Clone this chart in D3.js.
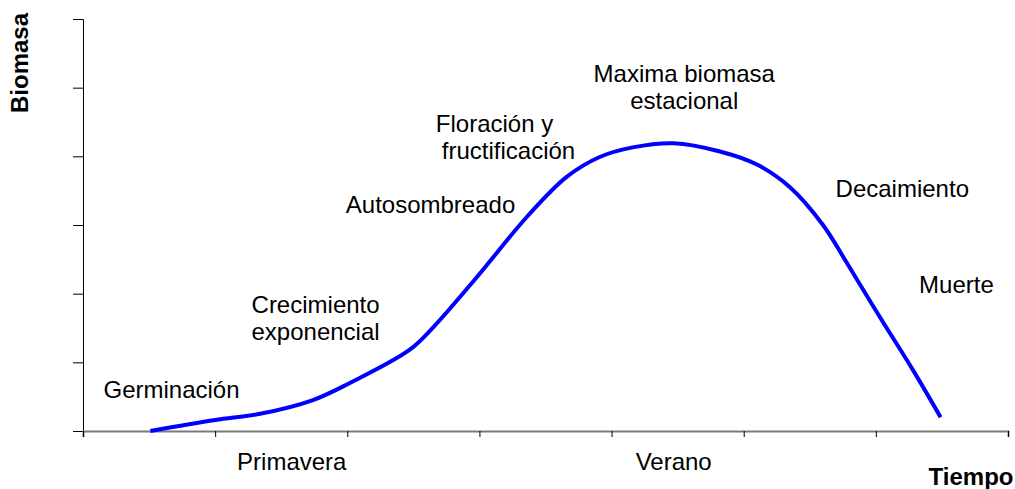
<!DOCTYPE html>
<html>
<head>
<meta charset="utf-8">
<script src="https://cdn.jsdelivr.net/npm/d3@7"></script>
<style>
  body { margin: 0; background: #fff; }
  text { font-family: "Liberation Sans", Arial, sans-serif; fill: #000; }
</style>
</head>
<body>
<div id="chart"></div>
<script>
// Configuration
const width = 1015;
const height = 489;
const margin = { top: 19, right: 7, bottom: 58, left: 83 };
const fontSize = "24px";

// Data: growth curve (time units, biomass units)
const timeValues = [0.51, 1.0, 1.34, 1.74, 2.02, 2.47, 2.65, 2.98, 3.36, 3.66, 3.91, 4.16, 4.47, 4.82, 5.10, 5.35, 5.60, 5.78, 6.03, 6.28, 6.49];
const biomassValues = [0.0, 0.16, 0.25, 0.45, 0.70, 1.18, 1.51, 2.24, 3.12, 3.70, 3.99, 4.13, 4.19, 4.07, 3.88, 3.55, 3.00, 2.45, 1.66, 0.89, 0.20];

// Season tick labels (placed between ticks)
const seasonLabels = ["Primavera", "Verano"];
const seasonPositions = [1.58, 4.47];

// Stage annotations: lines of text, anchor position in data units
const stageLines = [["Germinación"], ["Crecimiento", "exponencial"], ["Autosombreado"], ["Floración y", "fructificación"], ["Maxima biomasa", "estacional"], ["Decaimiento"], ["Muerte"]];
const stageX = [0.67, 1.76, 2.63, 3.22, 4.55, 6.20, 6.61];
const stageY = [0.48, 1.72, 3.17, 4.35, 5.08, 3.41, 2.01];
const lineShift = [[0], [0, 0], [0], [-14, 0], [0, 0], [0], [0]]; // px nudge per line

const x = d3.scaleLinear().domain([0, 7]).range([margin.left, width - margin.right]);
const y = d3.scaleLinear().domain([0, 6]).range([height - margin.bottom, margin.top]);

const svg = d3.select("#chart")
    .append("svg")
    .attr("width", width)
    .attr("height", height);

// Y axis (no labels)
const yAxis = svg.append("g")
    .attr("transform", `translate(${margin.left},0)`)
    .call(d3.axisLeft(y).ticks(6).tickSize(10).tickFormat(""));
yAxis.select(".domain").attr("stroke", "#000").attr("stroke-width", 1);
yAxis.selectAll(".tick line").attr("stroke", "#000");

// X axis (no labels)
const xAxis = svg.append("g")
    .attr("transform", `translate(0,${y(0)})`)
    .call(d3.axisBottom(x).ticks(7).tickSize(6).tickSizeOuter(6).tickFormat(""));
xAxis.select(".domain").attr("stroke", "#7a7a7a").attr("stroke-width", 2);
xAxis.selectAll(".tick line").attr("stroke", "#000");

// Season labels
svg.append("g")
    .selectAll("text")
    .data(seasonLabels)
    .join("text")
    .attr("x", (d, i) => x(seasonPositions[i]))
    .attr("y", y(0) + 39)
    .attr("text-anchor", "middle")
    .style("font-size", fontSize)
    .text(d => d);

// Axis titles
svg.append("text")
    .attr("transform", `translate(28,63) rotate(-90)`)
    .attr("text-anchor", "middle")
    .style("font-size", fontSize)
    .style("font-weight", "bold")
    .text("Biomasa");

svg.append("text")
    .attr("x", 971)
    .attr("y", 485)
    .attr("text-anchor", "middle")
    .style("font-size", fontSize)
    .style("font-weight", "bold")
    .text("Tiempo");

// Growth curve
const curveData = timeValues.map((t, i) => [t, biomassValues[i]]);
svg.append("path")
    .datum(curveData)
    .attr("fill", "none")
    .attr("stroke", "#0000ff")
    .attr("stroke-width", 4)
    .attr("d", d3.line()
        .x(d => x(d[0]))
        .y(d => y(d[1]))
        .curve(d3.curveCatmullRom.alpha(0.5)));

// Stage annotations
const stages = svg.append("g")
    .selectAll("text")
    .data(stageLines)
    .join("text")
    .attr("text-anchor", "middle")
    .attr("x", (d, i) => x(stageX[i]))
    .attr("y", (d, i) => y(stageY[i]))
    .style("font-size", fontSize);

stages.selectAll("tspan")
    .data((d, i) => d.map((line, j) => ({ line, i, j })))
    .join("tspan")
    .attr("x", d => x(stageX[d.i]) + lineShift[d.i][d.j])
    .attr("dy", d => d.j === 0 ? 0 : 27)
    .text(d => d.line);
</script>
</body>
</html>
